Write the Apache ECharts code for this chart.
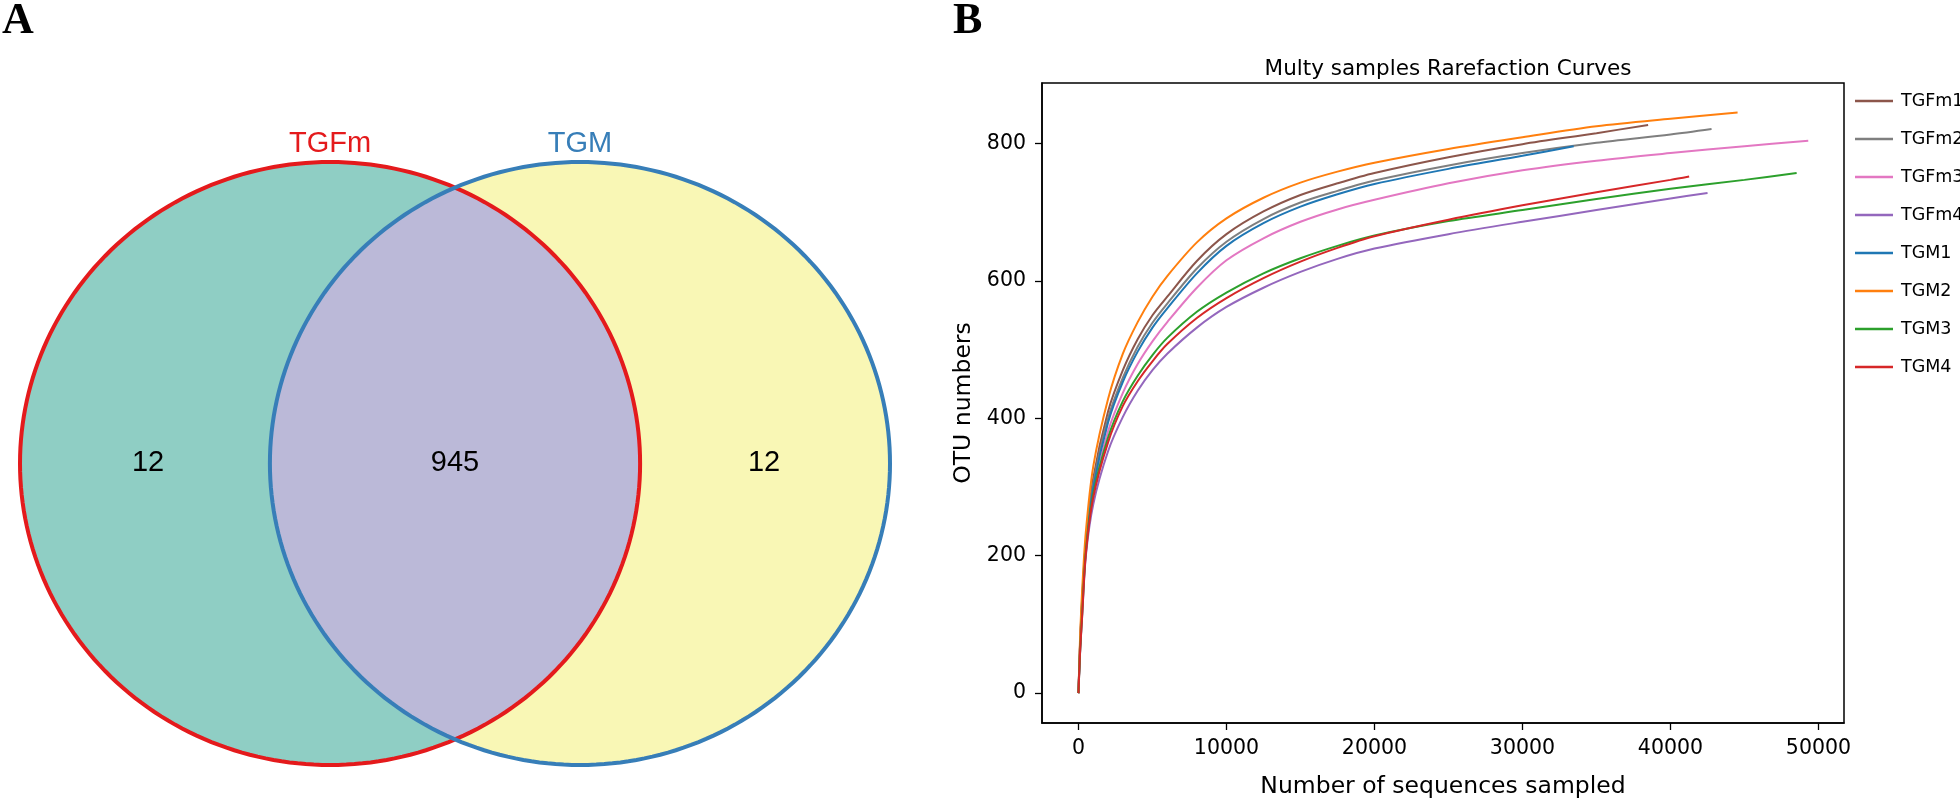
<!DOCTYPE html>
<html><head><meta charset="utf-8">
<script src="https://cdn.jsdelivr.net/npm/echarts@6/dist/echarts.min.js"></script>
<style>html,body{margin:0;padding:0;background:#fff}#c{width:1960px;height:804px}</style>
</head><body><div id="c"></div>
<script>
// ---- Venn data ----
const vennNames = ['TGFm', 'TGM'];
const vennOnly = [12, 12];
const vennShared = 945;

// ---- Rarefaction data ----
const seriesNames = ['TGFm1','TGFm2','TGFm3','TGFm4','TGM1','TGM2','TGM3','TGM4'];
const TGFm1 = [[0,0],[100,68],[250,138],[500,220],[1000,313],[2000,410],[3000,470],[4000,515],[5000,550],[6000,577],[8000,629],[10000,668],[12500,701],[15000,725],[17500,742],[20000,757],[25000,780],[30000,799],[35000,815],[38490,827]];
const TGFm2 = [[0,0],[100,66],[250,134],[500,214],[1000,304],[2000,400],[3000,459],[4000,504],[5000,539],[6000,567],[8000,618],[10000,657],[12500,690],[15000,714],[17500,731],[20000,746],[25000,768],[30000,786],[35000,801],[40000,813],[42776,821]];
const TGFm3 = [[0,0],[100,63],[250,127],[500,204],[1000,290],[2000,381],[3000,437],[4000,479],[5000,512],[6000,540],[8000,590],[10000,630],[12500,662],[15000,686],[17500,704],[20000,718],[25000,742],[30000,761],[35000,775],[40000,786],[45000,796],[49310,804]];
const TGFm4 = [[0,0],[100,55],[250,112],[500,200],[1000,275],[2000,352],[3000,402],[4000,440],[5000,470],[6000,494],[8000,532],[10000,562],[12500,590],[15000,613],[17500,632],[20000,647],[25000,668],[30000,686],[35000,703],[40000,720],[42505,728]];
const TGM1 = [[0,0],[100,65],[250,131],[500,210],[1000,299],[2000,394],[3000,453],[4000,497],[5000,532],[6000,560],[8000,611],[10000,651],[12500,684],[15000,708],[17500,726],[20000,741],[25000,763],[30000,782],[33462,796]];
const TGM2 = [[0,0],[100,75],[250,150],[500,235],[1000,330],[2000,428],[3000,494],[4000,540],[5000,577],[6000,607],[8000,656],[10000,691],[12500,721],[15000,743],[17500,759],[20000,772],[25000,792],[30000,809],[35000,825],[40000,836],[44535,845]];
const TGM3 = [[0,0],[100,57],[250,116],[500,207],[1000,290],[2000,372],[3000,425],[4000,462],[5000,492],[6000,517],[8000,555],[10000,583],[12500,611],[15000,633],[17500,651],[20000,666],[25000,687],[30000,703],[35000,719],[40000,734],[45000,747],[48525,757]];
const TGM4 = [[0,0],[100,56],[250,113],[500,203],[1000,285],[2000,365],[3000,418],[4000,454],[5000,483],[6000,508],[8000,546],[10000,575],[12500,604],[15000,628],[17500,648],[20000,665],[25000,689],[30000,710],[35000,729],[40000,747],[41262,752]];
const xTicks = [0, 10000, 20000, 30000, 40000, 50000];
const yTicks = [0, 200, 400, 600, 800];

const seriesData = [TGFm1, TGFm2, TGFm3, TGFm4, TGM1, TGM2, TGM3, TGM4];
const seriesColors = ['#8c564b','#7f7f7f','#e377c2','#9467bd','#1f77b4','#ff7f0e','#2ca02c','#d62728'];

const chart = echarts.init(document.getElementById('c'), null, {renderer: 'canvas', width: 1960, height: 804});

const DJ = '"DejaVu Sans", sans-serif';
const LS = '"Liberation Sans", Arial, sans-serif';

const lineSeries = seriesNames.map((n, i) => ({
  name: n, type: 'line', xAxisIndex: 0, yAxisIndex: 0,
  data: seriesData[i], showSymbol: false, symbol: 'none',
  smooth: 0.3,
  lineStyle: {color: seriesColors[i], width: 2}, itemStyle: {color: seriesColors[i]},
  animation: false, silent: true
}));

const vennSeries = {
  type: 'custom', xAxisIndex: 1, yAxisIndex: 1, silent: true, animation: false,
  data: [[0, 0]],
  renderItem: function (params, api) {
    const d = 0.403;
    const N = 240;
    const ellipse = (cx) => {
      const pts = [];
      for (let i = 0; i < N; i++) {
        const t = i / N * Math.PI * 2;
        pts.push(api.coord([cx + Math.cos(t), Math.sin(t)]));
      }
      return pts;
    };
    const t0 = Math.acos(d);
    const lens = [];
    for (let i = 0; i <= 120; i++) {
      const t = -t0 + 2 * t0 * i / 120;
      lens.push(api.coord([-d + Math.cos(t), Math.sin(t)]));
    }
    for (let i = 0; i <= 120; i++) {
      const t = Math.PI - t0 + 2 * t0 * i / 120;
      lens.push(api.coord([d + Math.cos(t), Math.sin(t)]));
    }
    const L = ellipse(-d), R = ellipse(d);
    const txt = (s, x, y, color) => {
      const p = api.coord([x, y]);
      return {type: 'text', style: {text: s, x: p[0], y: p[1], fill: color, font: '29px ' + LS,
        align: 'center', verticalAlign: 'middle', textAlign: 'center', textVerticalAlign: 'middle'}};
    };
    return {type: 'group', children: [
      {type: 'polygon', shape: {points: L}, style: {fill: '#8fcec4', stroke: null}},
      {type: 'polygon', shape: {points: R}, style: {fill: '#f9f7b5', stroke: null}},
      {type: 'polygon', shape: {points: lens}, style: {fill: '#bbb9d8', stroke: null}},
      {type: 'polygon', shape: {points: L}, style: {fill: null, stroke: '#e41a1c', lineWidth: 4}},
      {type: 'polygon', shape: {points: R}, style: {fill: null, stroke: '#377eb8', lineWidth: 4}},
      txt(vennNames[0], -d, 1.061, '#e41a1c'),
      txt(vennNames[1], d, 1.061, '#377eb8'),
      txt(String(vennOnly[0]), -0.99, 0.003, '#000'),
      txt(String(vennShared), 0.0, 0.003, '#000'),
      txt(String(vennOnly[1]), 0.997, 0.003, '#000')
    ]};
  }
};

const option = {
  backgroundColor: '#fff',
  animation: false,
  title: {
    text: 'Multy samples Rarefaction Curves', left: 1443, top: 53, textAlign: 'center',
    textStyle: {fontFamily: DJ, fontSize: 21.5, fontWeight: 'normal', color: '#000'}
  },
  legend: {
    orient: 'vertical', left: 1850, top: 86, itemWidth: 38, itemHeight: 2.5, itemGap: 18,
    icon: 'rect', selectedMode: false,
    data: seriesNames.map(n => ({name: n, icon: 'rect'})),
    textStyle: {fontFamily: DJ, fontSize: 17.5, color: '#000', lineHeight: 20, height: 20, padding: [0, 0, 0, 3]}
  },
  grid: [
    {left: 1042, top: 83, width: 802, height: 643, show: true, borderColor: '#000', borderWidth: 1.5, backgroundColor: 'transparent'},
    {left: 20, top: 162, width: 870, height: 603, show: false}
  ],
  xAxis: [
    {
      type: 'value', gridIndex: 0, min: -2464, max: 51725,
      name: 'Number of sequences sampled', nameLocation: 'middle', nameGap: 52,
      nameTextStyle: {fontFamily: DJ, fontSize: 23.5, color: '#000'},
      axisLine: {show: true, onZero: false, lineStyle: {color: '#000', width: 1.5}},
      axisTick: {show: true, length: 7, inside: false, customValues: xTicks, lineStyle: {color: '#000', width: 1.3}},
      axisLabel: {customValues: xTicks, formatter: v => String(v), margin: 15, fontFamily: DJ, fontSize: 20.5, color: '#000'},
      splitLine: {show: false}
    },
    {type: 'value', gridIndex: 1, min: -1.403, max: 1.403, show: false}
  ],
  yAxis: [
    {
      type: 'value', gridIndex: 0, min: -43.5, max: 888,
      name: 'OTU numbers', nameLocation: 'middle', nameGap: 66, nameRotate: 90,
      nameTextStyle: {fontFamily: DJ, fontSize: 23.5, color: '#000'},
      axisLine: {show: true, onZero: false, lineStyle: {color: '#000', width: 1.5}},
      axisTick: {show: true, length: 7, inside: false, customValues: yTicks, lineStyle: {color: '#000', width: 1.3}},
      axisLabel: {customValues: yTicks, formatter: v => String(v), margin: 16, fontFamily: DJ, fontSize: 20.5, color: '#000'},
      splitLine: {show: false}
    },
    {type: 'value', gridIndex: 1, min: -1, max: 1, show: false}
  ],
  graphic: [
    {type: 'text', left: 2, top: 0, style: {text: 'A', font: 'bold 44px "Liberation Serif", "DejaVu Serif", serif', fill: '#000'}},
    {type: 'text', left: 953, top: 0, style: {text: 'B', font: 'bold 44px "Liberation Serif", "DejaVu Serif", serif', fill: '#000'}}
  ],
  series: [vennSeries].concat(lineSeries)
};
chart.setOption(option);
</script>
</body></html>
